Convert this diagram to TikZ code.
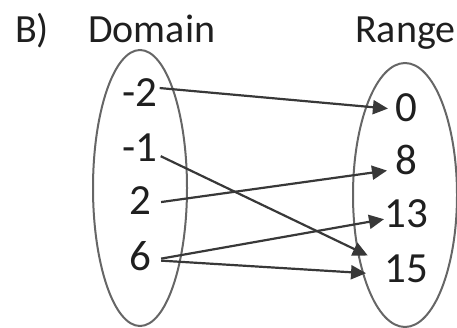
\documentclass[tikz,border=0pt]{standalone}
\usepackage{fontspec}
\setmainfont{Carlito}
\usetikzlibrary{arrows.meta}
\begin{document}
\begin{tikzpicture}[x=1pt,y=-1pt,
  head/.style={font=\fontsize{40}{44}\selectfont, text=black!88, inner sep=0pt, anchor=base west},
  num/.style={font=\fontsize{43}{46}\selectfont, text=black!88, inner sep=0pt, anchor=base},
  oval/.style={draw=black!60, line width=2pt},
  link/.style={draw=black!78, line width=2.2pt, -{Triangle[length=15pt,width=14pt]}}]
\useasboundingbox (0,0) rectangle (457,328);
\node[head] (b) at (15,43) {B)};
\node[head] (dom) at (88,43) {Domain};
\node[head] (ran) at (355,43) {Range};
\draw[oval] (140,188) ellipse [x radius=47, y radius=138];
\draw[oval] (405,195) ellipse [x radius=52, y radius=132];
\node[num] (m2) at (140,107) {-2};
\node[num] (m1) at (140,162) {-1};
\node[num] (p2) at (140,215) {2};
\node[num] (p6) at (140,270) {6};
\node[num] (r0) at (406,122) {0};
\node[num] (r8) at (406,175) {8};
\node[num] (r13) at (406,228) {13};
\node[num] (r15) at (406,282) {15};
\draw[link, shorten >=7pt] ([xshift=2pt,yshift=5pt]m2.east) -- ([yshift=-1pt]r0.west);
\draw[link, shorten >=18pt] ([xshift=3pt,yshift=-8pt]m1.east) -- ([yshift=5pt]r15.west);
\draw[link, shorten >=8pt] ([xshift=10pt,yshift=-1pt]p2.east) -- ([yshift=-9pt]r8.west);
\draw[link, shorten >=0pt] ([xshift=10pt,yshift=-3pt]p6.east) -- ([yshift=-5pt]r13.west);
\draw[link, shorten >=18pt] ([xshift=10pt,yshift=-5pt]p6.east) -- ([yshift=-6pt]r15.west);
\end{tikzpicture}
\end{document}
